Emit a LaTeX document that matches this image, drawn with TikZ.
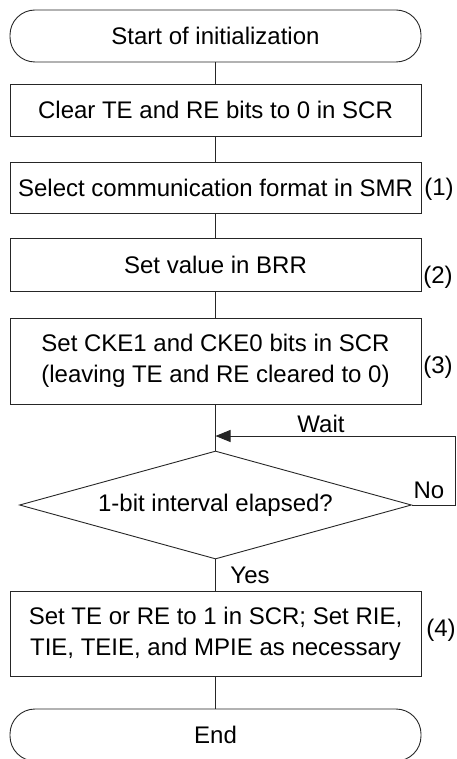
\documentclass[tikz,border=0pt]{standalone}
\usepackage{fontspec}
\setmainfont{Liberation Sans}
\usetikzlibrary{shapes.geometric,arrows.meta}
\begin{document}
\begin{tikzpicture}[x=1pt,y=-1pt,
  every node/.style={font=\fontsize{24}{31}\selectfont},
  lw/.style={line width=0.9pt,draw=black!85},
  procbox/.style={lw,rectangle,minimum width=411pt,inner sep=0pt,align=center},
  termbox/.style={lw,rectangle,rounded corners=25pt,minimum width=411pt,minimum height=52pt,inner sep=0pt},
  decbox/.style={lw,diamond,minimum width=392pt,minimum height=108pt,inner sep=0pt},
  conn/.style={lw},
  arr/.style={lw,-{Triangle[length=15pt,width=12pt]}},
  lbl/.style={inner sep=0pt}]
\useasboundingbox (0,0) rectangle (457,759);
\node[termbox] (start) at (215.5,36) {Start of initialization};
\node[procbox,minimum height=52pt] (b1) at (215.5,110) {Clear TE and RE bits to 0 in SCR};
\node[procbox,minimum height=51pt] (b2) at (215.5,187.5) {Select communication format in SMR};
\node[procbox,minimum height=53pt] (b3) at (215.5,264.5) {Set value in BRR};
\node[procbox,minimum height=86pt] (b4) at (215.5,361) {Set CKE1 and CKE0 bits in SCR\\(leaving TE and RE cleared to 0)};
\node[decbox] (d) at (215.5,505) {};
\node (dt) at (215.5,505) {1-bit interval elapsed?};
\node[procbox,minimum height=85pt] (b5) at (215.5,633.5) {Set TE or RE to 1 in SCR; Set RIE,\\TIE, TEIE, and MPIE as necessary};
\node[termbox] (end) at (215.5,735) {End};
\coordinate (w) at (215.5,436);
\coordinate (loopr) at (455,505);
\node[lbl] (l1) at (439,189) {(1)};
\node[lbl] (l2) at (438,277) {(2)};
\node[lbl] (l3) at (438,367) {(3)};
\node[lbl] (l4) at (441,630) {(4)};
\node[lbl] (wait) at (321,424) {Wait};
\node[lbl] (no) at (429,490) {No};
\node[lbl] (yes) at (250,575) {Yes};
\draw[conn] (start) -- (b1);
\draw[conn] (b1) -- (b2);
\draw[conn] (b2) -- (b3);
\draw[conn] (b3) -- (b4);
\draw[conn] (b4) -- (d);
\draw[conn] (d) -- (b5);
\draw[conn] (b5) -- (end);
\draw[arr] (d.east) -- (loopr) |- (w);
\end{tikzpicture}
\end{document}
